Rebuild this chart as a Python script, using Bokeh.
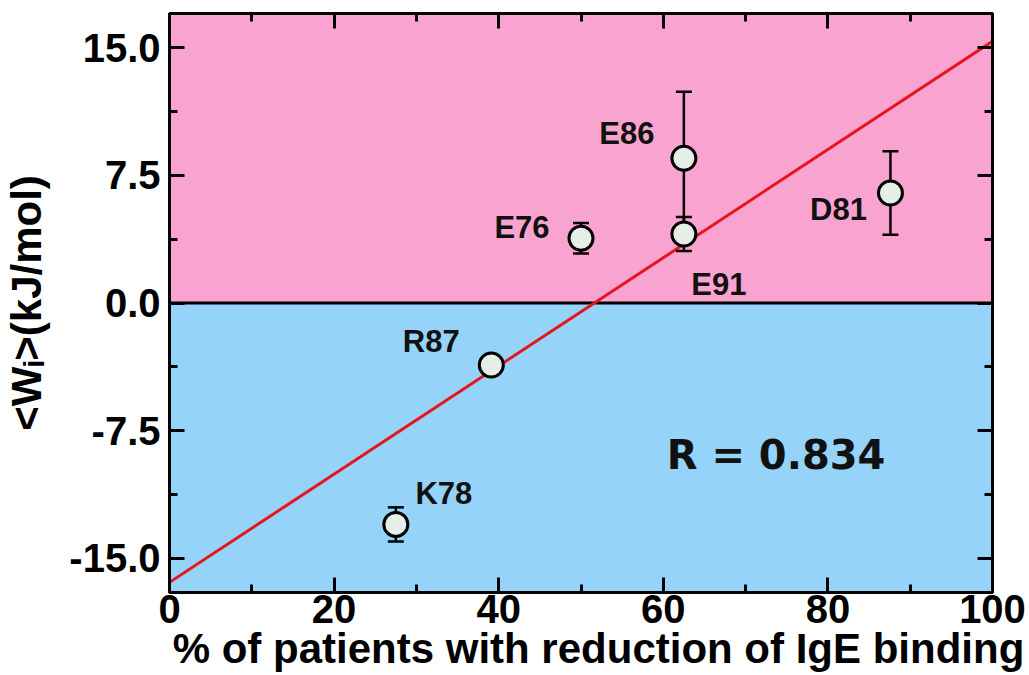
import numpy as np
from bokeh.plotting import figure
from bokeh.models import (BoxAnnotation, Span, Label, LinearAxis, FixedTicker,
                          PrintfTickFormatter, CustomJSTickFormatter, Range1d)
from bokeh.core.properties import value
from bokeh.embed import file_html
from bokeh.resources import INLINE

# residue, % of patients with reduced IgE binding, mean work <W_i> (kJ/mol) and its error
residues = ["K78", "R87", "E76", "E91", "E86", "D81"]
pct_reduction = [27.5, 39.1, 50.0, 62.5, 62.5, 87.6]
w_mean = [-13.0, -3.64, 3.8, 4.05, 8.5, 6.46]
w_err = [1.0, 0.3, 0.9, 1.0, 3.9, 2.45]

x_ticks = [0, 20, 40, 60, 80, 100]
x_minor = [10, 30, 50, 70, 90]
y_ticks = [-15.0, -7.5, 0.0, 7.5, 15.0]
y_minor = [-11.25, -3.75, 3.75, 11.25]

# leading no-break spaces nudge the centred title slightly to the right
x_title = "\u00a0\u00a0\u00a0% of patients with reduction of IgE binding"
y_title = "<W\u1d62>(kJ/mol)"
correlation_label = "R = 0.834"

# screen offsets (px) of each residue name from its point
label_dx = [48, -60, -59, 35, -57, -52]
label_dy = [-31, -23, -11, 50, -25, 17]

PINK = "#f9a4d0"
BLUE = "#95d3f9"
MARKER_FILL = "#e6eee8"
RED = "#e8141c"
FONT = "Liberation Sans"

x = np.array(pct_reduction)
y = np.array(w_mean)
e = np.array(w_err)
slope, intercept = np.polyfit(x, y, 1)

p = figure(width=1029, height=675, output_backend="svg", toolbar_location=None,
           x_range=Range1d(0, 100), y_range=Range1d(-17, 17),
           min_border_left=168, min_border_right=37, min_border_top=13, min_border_bottom=83,
           border_fill_color="white")
p.grid.visible = False
p.outline_line_color = "black"
p.outline_line_width = 3


def style_axis(ax, ticks, minor, show_labels):
    ax.ticker = FixedTicker(ticks=ticks, minor_ticks=minor)
    ax.axis_line_color = "black"
    ax.axis_line_width = 3
    ax.major_tick_in = 15
    ax.major_tick_out = 0
    ax.minor_tick_in = 8
    ax.minor_tick_out = 0
    ax.major_tick_line_width = 3
    ax.minor_tick_line_width = 3
    ax.major_label_text_font = FONT
    ax.major_label_text_font_style = "bold"
    ax.major_label_text_color = "black"
    ax.major_label_text_font_size = "40px"
    ax.axis_label_text_font = FONT
    ax.axis_label_text_font_style = "bold"
    ax.axis_label_text_color = "black"
    ax.axis_label_text_font_size = "42px"
    if not show_labels:
        ax.formatter = CustomJSTickFormatter(code="return ''")
        ax.major_label_standoff = 0


style_axis(p.xaxis[0], x_ticks, x_minor, True)
p.xaxis[0].major_label_standoff = 2
p.xaxis[0].axis_label = x_title
p.xaxis[0].axis_label_standoff = -1

style_axis(p.yaxis[0], y_ticks, y_minor, True)
p.yaxis[0].major_label_standoff = 9
p.yaxis[0].formatter = PrintfTickFormatter(format="%.1f")
p.yaxis[0].axis_label = y_title
p.yaxis[0].axis_label_standoff = 16

top_axis = LinearAxis()
style_axis(top_axis, x_ticks, x_minor, False)
p.add_layout(top_axis, "above")
right_axis = LinearAxis()
style_axis(right_axis, y_ticks, y_minor, False)
p.add_layout(right_axis, "right")

# favourable / unfavourable regions
p.add_layout(BoxAnnotation(bottom=0, fill_color=PINK, fill_alpha=1, line_alpha=0, level="underlay"))
p.add_layout(BoxAnnotation(top=0, fill_color=BLUE, fill_alpha=1, line_alpha=0, level="underlay"))
p.add_layout(Span(location=0, dimension="width", line_color="black", line_width=3, level="underlay"))

# least-squares fit across the full x range
fit_x = np.array([p.x_range.start, p.x_range.end])
p.line(fit_x, slope * fit_x + intercept, line_color=RED, line_width=3)

# error bars
p.segment(x0=x, y0=y - e, x1=x, y1=y + e, line_color="black", line_width=2.5)
p.scatter(x, y + e, marker="dash", size=16, line_color="black", line_width=2.5)
p.scatter(x, y - e, marker="dash", size=16, line_color="black", line_width=2.5)

p.scatter(x, y, marker="circle", size=24, fill_color=MARKER_FILL,
          line_color="black", line_width=3)

p.text(x=x, y=y, text=residues, x_offset=label_dx, y_offset=label_dy,
       text_font=value(FONT), text_font_style="bold", text_font_size="31px",
       text_align="center", text_baseline="middle", text_color="#111111")

p.add_layout(Label(x=73.7, y=-8.95, text=correlation_label, text_font="DejaVu Sans",
                   text_font_style="bold", text_font_size="40px",
                   text_align="center", text_baseline="middle", text_color="#111111"))

open("out.html", "w").write(file_html(p, INLINE))
